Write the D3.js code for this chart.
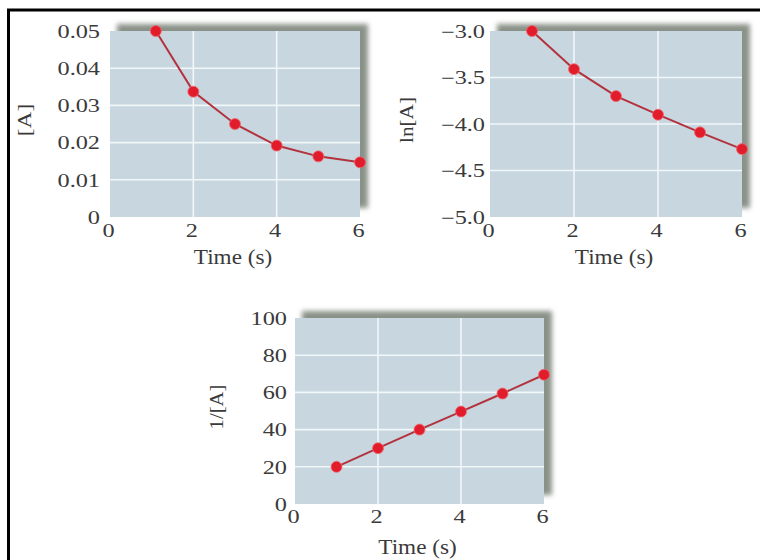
<!DOCTYPE html>
<html><head><meta charset="utf-8">
<script src="https://cdn.jsdelivr.net/npm/d3@7"></script>
<style>body{margin:0;background:#fff}svg{display:block}</style>
</head><body>
<script>
// ---- data ----
const timeA = [1.1, 2, 3, 4, 5, 6];
const concA = [0.05, 0.0337, 0.025, 0.0192, 0.0163, 0.0147];
const timeB = [1, 2, 3, 4, 5, 6];
const lnA = [-3.0, -3.41, -3.70, -3.90, -4.09, -4.27];
const timeC = [1, 2, 3, 4, 5, 6];
const invA = [20, 30, 40, 49.7, 59.4, 69.5];
const xTicks = [0, 2, 4, 6];
const ticksA = [0, 0.01, 0.02, 0.03, 0.04, 0.05];
const ticksB = [-5.0, -4.5, -4.0, -3.5, -3.0];
const ticksC = [0, 20, 40, 60, 80, 100];
const xLabel = "Time (s)";
const yLabels = ["[A]", "ln[A]", "1/[A]"];

const W = 760, H = 560;
const svg = d3.select("body").append("svg").attr("width", W).attr("height", H);
const defs = svg.append("defs");
defs.append("filter").attr("id", "blur").attr("x", "-10%").attr("y", "-10%").attr("width", "120%").attr("height", "120%")
  .append("feGaussianBlur").attr("stdDeviation", 2.4);

// frame
svg.append("line").attr("x1", 7).attr("x2", 760).attr("y1", 10).attr("y2", 10).attr("stroke", "#000").attr("stroke-width", 3);
svg.append("line").attr("x1", 8.5).attr("x2", 8.5).attr("y1", 9).attr("y2", 560).attr("stroke", "#000").attr("stroke-width", 3);

const FONT = "'Liberation Serif','Times New Roman',serif";
const SX = 1.35;

function panel(cfg) {
  const x = d3.scaleLinear().domain([0, 6]).range([cfg.x0, cfg.x1]);
  const y = d3.scaleLinear().domain(cfg.yDomain).range([cfg.bottom, cfg.top]);
  const g = svg.append("g");
  // shadow
  g.append("rect").attr("x", cfg.x0 + 7).attr("y", cfg.top - 7)
    .attr("width", cfg.x1 - cfg.x0 + 1).attr("height", cfg.bottom - cfg.top - 2)
    .attr("fill", "#8a9288").attr("filter", "url(#blur)");
  // plot area
  g.append("rect").attr("x", cfg.x0).attr("y", cfg.top)
    .attr("width", cfg.x1 - cfg.x0).attr("height", cfg.bottom - cfg.top)
    .attr("fill", "#c7d6df");
  // grid
  g.selectAll(".gx").data(xTicks.filter(t => t > 0 && t < 6)).join("line")
    .attr("x1", d => x(d)).attr("x2", d => x(d)).attr("y1", cfg.top).attr("y2", cfg.bottom)
    .attr("stroke", "#f2f7fa").attr("stroke-width", 1.6);
  const yd = cfg.yDomain;
  g.selectAll(".gy").data(cfg.yTicks.filter(t => t !== yd[0] && t !== yd[1])).join("line")
    .attr("x1", cfg.x0).attr("x2", cfg.x1).attr("y1", d => y(d)).attr("y2", d => y(d))
    .attr("stroke", "#f2f7fa").attr("stroke-width", 1.6);

  // axes (labels only)
  const ax = g.append("g").attr("transform", `translate(0,${cfg.bottom})`)
    .call(d3.axisBottom(x).tickValues(xTicks).tickSize(0).tickPadding(0).tickFormat(d3.format("d")));
  ax.select(".domain").remove();
  ax.selectAll("text").attr("y", 0).attr("dy", null)
    .attr("font-family", FONT).attr("font-size", 18).attr("fill", "#3a3a3a")
    .attr("transform", `translate(-2,${cfg.xLabY}) scale(${SX},1)`);

  const ay = g.append("g").attr("transform", `translate(${cfg.yLabX},0)`)
    .call(d3.axisLeft(y).tickValues(cfg.yTicks).tickSize(0).tickPadding(0).tickFormat(cfg.fmt));
  ay.select(".domain").remove();
  ay.selectAll("text").attr("x", 0).attr("dy", "0.35em")
    .attr("font-family", FONT).attr("font-size", 18).attr("fill", "#3a3a3a")
    .attr("transform", `scale(${SX},1)`);

  // axis titles
  g.append("text").attr("transform", `translate(${(cfg.x0 + cfg.x1) / 2 - 2},${cfg.titleY}) scale(1.16,1)`)
    .attr("text-anchor", "middle").attr("font-family", FONT).attr("font-size", 20).attr("fill", "#3a3a3a")
    .text(xLabel);
  g.append("text").attr("transform", `translate(${cfg.yTitleX},${(cfg.top + cfg.bottom) / 2 - 4}) rotate(-90) scale(${cfg.ySX},1)`)
    .attr("text-anchor", "middle").attr("font-family", FONT).attr("font-size", 18).attr("fill", "#3a3a3a")
    .text(cfg.yTitle);

  // line & points
  const pts = cfg.xs.map((t, i) => [t, cfg.ys[i]]);
  g.append("path").datum(pts)
    .attr("d", d3.line().x(d => x(d[0])).y(d => y(d[1])))
    .attr("fill", "none").attr("stroke", "#b3323d").attr("stroke-width", 2);
  g.selectAll(".pt").data(pts).join("circle")
    .attr("cx", d => x(d[0])).attr("cy", d => y(d[1])).attr("r", 5.5)
    .attr("fill", "#e21d2b").attr("stroke", "#ef6a72").attr("stroke-width", 0.8);
}

panel({x0: 110, x1: 360, top: 31, bottom: 217, yDomain: [0, 0.05], yTicks: ticksA,
  fmt: d => d === 0 ? "0" : d3.format(".2f")(d), xs: timeA, ys: concA,
  yLabX: 100, xLabY: 20, titleY: 264, yTitle: yLabels[0], yTitleX: 31, ySX: 1.3});
panel({x0: 490, x1: 742, top: 31, bottom: 217, yDomain: [-5, -3], yTicks: ticksB,
  fmt: d3.format(".1f"), xs: timeB, ys: lnA,
  yLabX: 485, xLabY: 20, titleY: 264, yTitle: yLabels[1], yTitleX: 413, ySX: 1.18});
panel({x0: 295, x1: 544, top: 318, bottom: 504, yDomain: [0, 100], yTicks: ticksC,
  fmt: d3.format("d"), xs: timeC, ys: invA,
  yLabX: 287, xLabY: 19, titleY: 554, yTitle: yLabels[2], yTitleX: 223, ySX: 1.15});
</script>
</body></html>
